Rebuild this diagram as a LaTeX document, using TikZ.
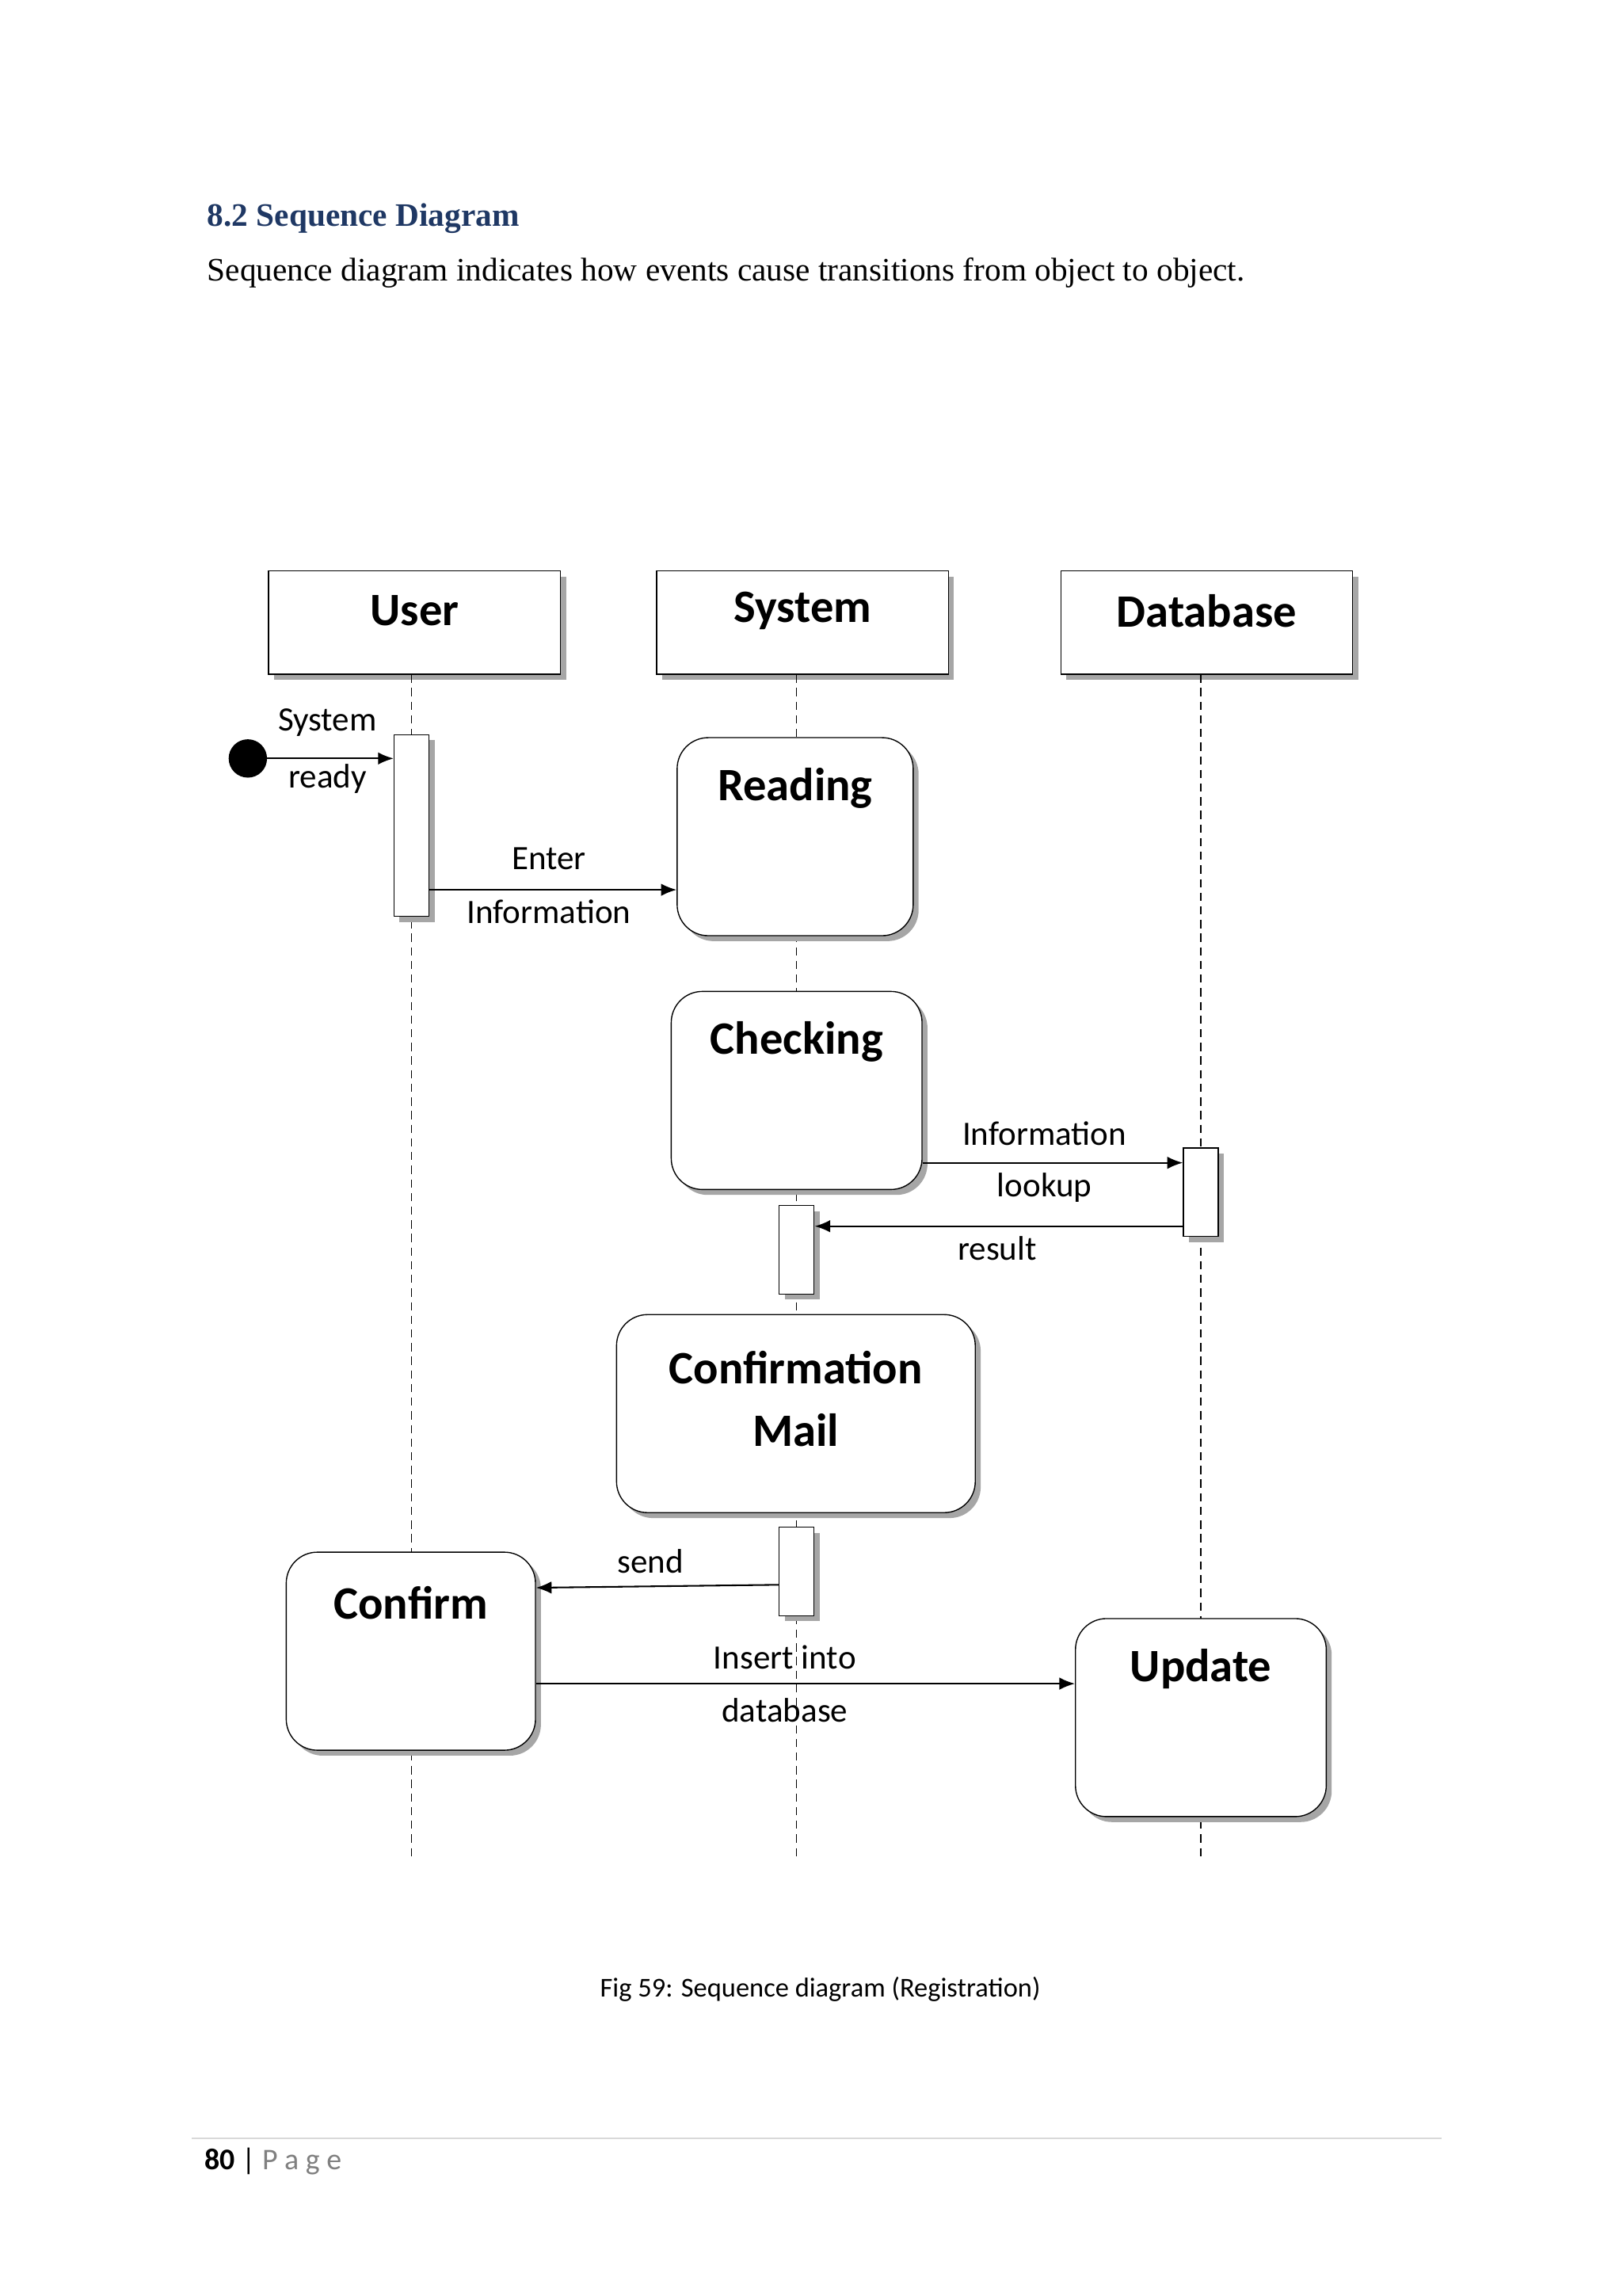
\documentclass[tikz,border=0pt]{standalone}
\usepackage{fontspec}
\setmainfont{Liberation Serif}
\newfontfamily\carl{Carlito}
\usetikzlibrary{shadows,arrows.meta}
\begin{document}
\begin{tikzpicture}[x=0.19mm,y=-0.19mm,
 shd/.style={drop shadow={shadow xshift=0.7mm,shadow yshift=-0.7mm,fill=gray!70,opacity=1}},
 head/.style={draw,fill=white,shd,minimum width=37.6mm,minimum height=13.3mm,inner sep=0pt},
 state/.style={draw,fill=white,shd,rounded corners=4mm,inner sep=0pt},
 bar/.style={draw,fill=white,shd,minimum width=4.5mm,inner sep=0pt},
 life/.style={densely dashed,line width=0.4pt},
 msg/.style={-{Latex[length=2mm,width=1.6mm]},line width=0.6pt},
 ttl/.style={font=\carl\bfseries\fontsize{17}{20}\selectfont},
 lbl/.style={font=\carl\fontsize{12.5}{15}\selectfont,inner sep=0pt}]
\useasboundingbox (0,0) rectangle (1100,1556);
\node[anchor=west,font=\bfseries\fontsize{12}{14}\selectfont,text={rgb,255:red,31;green,56;blue,100}] (h) at (134,148) {8.2 Sequence Diagram};
\node[anchor=west,font=\fontsize{12}{14}\selectfont] (b) at (134,185) {Sequence diagram indicates how events cause transitions from object to object.};
% lifelines
\coordinate (ue) at (279,1260); \coordinate (se) at (540,1260); \coordinate (de) at (814,1260);
\node[head] (user) at (281,422) {}; \node[ttl] at (281,414) {User};
\node[head] (sys) at (544,422) {}; \node[ttl] at (544,414) {System};
\node[head] (db) at (818,422) {}; \node[ttl] at (818,414) {Database};
\draw[life] (279,457) -- (ue); \draw[life] (540,457) -- (se); \draw[life] (814,457) -- (de);
% start
\fill (168,514) circle (13) coordinate (st);
\node[bar,minimum height=23.4mm] (ub) at (279,559.5) {};
\draw[msg] (168,514) -- (ub.west|-0,514);
\node[lbl,align=center] at (222,509) {System\\[2mm]ready};
% reading
\node[state,minimum width=30.4mm,minimum height=25.5mm] (read) at (539,567) {};
\node[ttl] at (539,534) {Reading};
\draw[msg] (ub.east|-0,603) -- (read.west|-0,603);
\node[lbl] at (372,582) {Enter}; \node[lbl] at (372,618) {Information};
% checking
\node[state,minimum width=32.3mm,minimum height=25.5mm] (chk) at (540,739) {};
\node[ttl] at (540,706) {Checking};
\node[bar,minimum height=11.4mm] (dbb) at (814,808) {};
\draw[msg] (chk.east|-0,788) -- (dbb.west|-0,788);
\node[lbl] at (708,768) {Information}; \node[lbl] at (708,805) {lookup};
\node[bar,minimum height=11.4mm] (sb1) at (540,847) {};
\draw[msg] (dbb.west|-0,831) -- (sb1.east|-0,831);
\node[lbl] at (676,846) {result};
% confirmation mail
\node[state,minimum width=46.2mm,minimum height=25.5mm] (cm) at (539.5,958) {};
\node[ttl,align=center] at (539.5,948) {Confirmation\\[1mm]Mail};
\node[bar,minimum height=11.4mm] (sb2) at (540,1065) {};
% confirm
\node[state,minimum width=32.1mm,minimum height=25.5mm] (conf) at (278.5,1119) {};
\node[ttl] at (278.5,1086) {Confirm};
\draw[msg] (sb2.west|-0,1074) -- (conf.east|-0,1076);
\node[lbl] at (441,1058) {send};
% update
\node[state,minimum width=32.3mm,minimum height=25.5mm] (upd) at (814,1164) {};
\node[ttl] at (814,1131) {Update};
\draw[msg] (conf.east|-0,1141) -- (upd.west|-0,1141);
\node[lbl] at (532,1123) {Insert into}; \node[lbl] at (532,1159) {database};
% caption & footer
\node[font=\carl\fontsize{10}{12}\selectfont] (cap) at (556,1348) {Fig 59: Sequence diagram (Registration)};
\draw[gray!30,line width=0.5pt] (130,1449) -- (977,1449);
\node[anchor=west,font=\carl\fontsize{11}{13}\selectfont] (pg) at (132,1465) {\textbf{80} | \textcolor{gray}{P a g e}};
\end{tikzpicture}
\end{document}
